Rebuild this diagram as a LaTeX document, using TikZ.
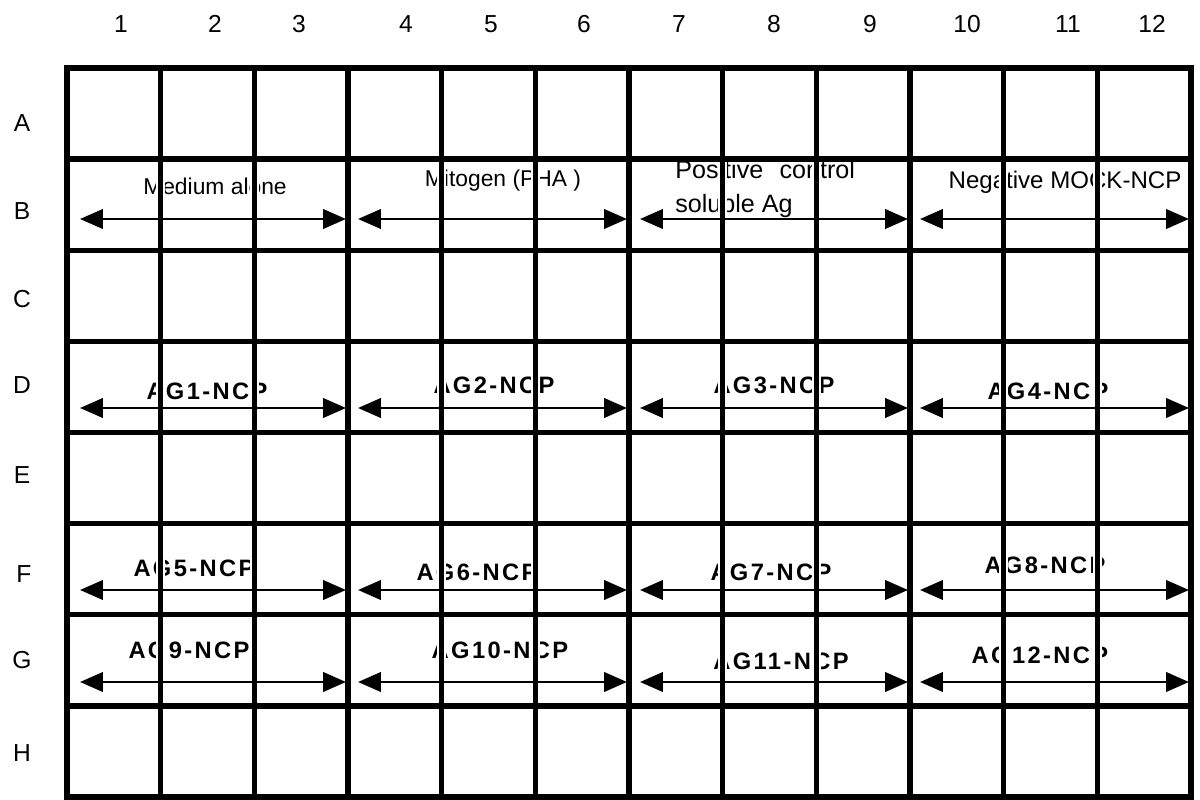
\documentclass[tikz,border=0pt]{standalone}
\usepackage{fontspec}
\setmainfont{Liberation Sans}
\newfontfamily\agfont[LetterSpace=10.0]{Liberation Sans}
\usetikzlibrary{arrows.meta, positioning}

\begin{document}
\begin{tikzpicture}[x=0.02cm, y=-0.02cm]
    \tikzstyle{plateline} = [line width=3pt, line cap=rect, black]
    \tikzstyle{gapline}   = [line width=4.8pt, white]
    \tikzstyle{span} = [{Triangle[length=13pt, width=11pt]}-{Triangle[length=13pt, width=11pt]}, line width=1.5pt]
    \tikzstyle{hdr}  = [font=\fontsize{14}{16}\selectfont, inner sep=0pt]
    \tikzstyle{grp}  = [font=\fontsize{13}{18}\selectfont, inner sep=0pt]
    \tikzstyle{ag}   = [font=\agfont\bfseries\fontsize{13.5}{16}\selectfont, inner sep=0pt]

    \useasboundingbox (0,0) rectangle (1200,800);

    %% ── Column numbers ─────────────────────────────────────────────────────
    \node[hdr] at (121,24)  (c1)  {1};
    \node[hdr] at (215,24)  (c2)  {2};
    \node[hdr] at (299,24)  (c3)  {3};
    \node[hdr] at (406,24)  (c4)  {4};
    \node[hdr] at (491,24)  (c5)  {5};
    \node[hdr] at (584,24)  (c6)  {6};
    \node[hdr] at (679,24)  (c7)  {7};
    \node[hdr] at (774,24)  (c8)  {8};
    \node[hdr] at (870,24)  (c9)  {9};
    \node[hdr] at (967,24)  (c10) {10};
    \node[hdr] at (1068,24) (c11) {11};
    \node[hdr] at (1152,24) (c12) {12};

    %% ── Row letters ────────────────────────────────────────────────────────
    \node[hdr] at (22,123) (rA) {A};
    \node[hdr] at (22,211) (rB) {B};
    \node[hdr] at (22,299) (rC) {C};
    \node[hdr] at (22,385) (rD) {D};
    \node[hdr] at (22,475) (rE) {E};
    \node[hdr] at (24,574) (rF) {F};
    \node[hdr] at (22,660) (rG) {G};
    \node[hdr] at (22,753) (rH) {H};

    %% ── Row B: controls ────────────────────────────────────────────────────
    \node[grp] at (215,186) (med) {Medium alone};
    \node[grp] at (503,181) (mit) {Mitogen (PHA )};
    \node[grp, anchor=west, align=left, font=\fontsize{14.3}{19}\selectfont]
      at (675,189) (pos) {Positive\hspace{0.65em}control\\soluble Ag};
    \node[grp, font=\fontsize{13.7}{16}\selectfont] at (1065,182) (neg)
      {Negative MOCK-NCP};

    %% ── Rows D, F, G: antigens ─────────────────────────────────────────────
    \node[ag] at (207,391) (ag1)  {AG1-NCP};
    \node[ag] at (494,385) (ag2)  {AG2-NCP};
    \node[ag] at (774,385) (ag3)  {AG3-NCP};
    \node[ag] at (1048,391) (ag4) {AG4-NCP};
    \node[ag] at (194,568) (ag5)  {AG5-NCP};
    \node[ag] at (477,572) (ag6)  {AG6-NCP};
    \node[ag] at (771,572) (ag7)  {AG7-NCP};
    \node[ag] at (1045,565) (ag8) {AG8-NCP};
    \node[ag] at (189,650) (ag9)  {AG9-NCP};
    \node[ag] at (500,650) (ag10) {AG10-NCP};
    \node[ag] at (781,661) (ag11) {AG11-NCP};
    \node[ag] at (1040,655) (ag12) {AG12-NCP};

    %% ── Labels are cut where the well walls cross them ─────────────────────
    \foreach \i in {1,...,11}
      \draw[gapline] ({67+\i*93.667},160) -- ({67+\i*93.667},705);

    %% ── Spans over three wells each (rows B, D, F, G) ──────────────────────
    \foreach \row/\y in {b/219, d/408, f/590, g/682} {
      \foreach \g/\l/\r in {1/80/346, 2/358/627, 3/640/908, 4/920/1189} {
        \coordinate (\row\g l) at (\l,\y);
        \coordinate (\row\g r) at (\r,\y);
        \draw[span] (\row\g l) -- (\row\g r);
      }
    }

    %% ── Plate grid: 12 columns x 8 rows ───────────────────────────────────
    \foreach \i in {0,...,12}
      \draw[plateline] ({67+\i*93.667},68) -- ({67+\i*93.667},797);
    \foreach \j in {0,...,8}
      \draw[plateline] (67,{68+\j*91.125}) -- (1191,{68+\j*91.125});
\end{tikzpicture}
\end{document}
